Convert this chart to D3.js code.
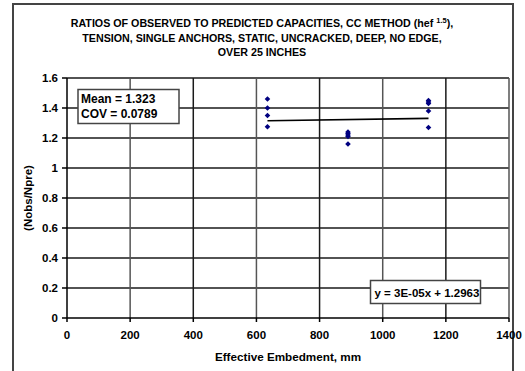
<!DOCTYPE html>
<html>
<head>
<meta charset="utf-8">
<script src="https://cdn.jsdelivr.net/npm/d3@7"></script>
<style>
  body { margin: 0; background: #fff; }
  text { font-family: "Liberation Sans", Arial, sans-serif; font-weight: bold; fill: #000; }
  .grid line { stroke: #1a1a1a; stroke-width: 1.5px; }
  .grid.vert .tick:nth-child(odd) line { stroke: #555; }
</style>
</head>
<body>
<div id="chart"></div>
<script>
var svgWidth = 525;
var svgHeight = 371;

// data
var embedment = [635, 635, 635, 635, 890, 890, 890, 890, 890, 1145, 1145, 1145, 1145, 1145];
var ratio = [1.46, 1.40, 1.35, 1.275, 1.24, 1.23, 1.22, 1.21, 1.16, 1.45, 1.44, 1.43, 1.38, 1.27];
var xTicks = [0, 200, 400, 600, 800, 1000, 1200, 1400];
var yTicks = [0, 0.2, 0.4, 0.6, 0.8, 1, 1.2, 1.4, 1.6];
var trendSlope = 3e-5;
var trendIntercept = 1.2963;
var statsLines = ["Mean = 1.323", "COV = 0.0789"];
var titleLines = ["RATIOS OF OBSERVED TO PREDICTED CAPACITIES, CC METHOD (hef ",
                  "TENSION, SINGLE ANCHORS, STATIC, UNCRACKED, DEEP, NO EDGE,",
                  "OVER 25 INCHES"];

var margin = { top: 78, right: 16, bottom: 53, left: 67 };
var width = svgWidth - margin.left - margin.right;
var height = svgHeight - margin.top - margin.bottom;

var svg = d3.select("#chart")
    .append("svg")
    .attr("width", svgWidth)
    .attr("height", svgHeight);

// outer chart border
svg.append("path")
    .attr("d", "M13,371 V4 H513 V371")
    .attr("fill", "none")
    .attr("stroke", "#444")
    .attr("stroke-width", 2);

// title
var title = svg.append("g").attr("text-anchor", "middle").attr("font-size", "10.7px");
var t1 = title.append("text").attr("x", 262).attr("y", 27);
t1.append("tspan").text(titleLines[0]);
t1.append("tspan").attr("font-size", "7.5px").attr("dy", -4).text("1.5");
t1.append("tspan").attr("dy", 4).text("),");
title.append("text").attr("x", 262).attr("y", 41.5).text(titleLines[1]);
title.append("text").attr("x", 262).attr("y", 56).text(titleLines[2]);

var chartGroup = svg.append("g")
    .attr("transform", `translate(${margin.left}, ${margin.top})`);

var xScale = d3.scaleLinear().domain([0, 1400]).range([0, width]);
var yScale = d3.scaleLinear().domain([0, 1.6]).range([height, 0]);

// gridlines, drawn with the axis generators (offset 0 so the lines straddle two pixels)
chartGroup.append("g")
    .attr("class", "grid")
    .call(d3.axisLeft(yScale).tickValues(yTicks.slice(1)).tickSize(-width).tickFormat("").offset(0))
    .call(g => g.select(".domain").remove());

chartGroup.append("g")
    .attr("class", "grid vert")
    .call(d3.axisTop(xScale).tickValues(xTicks.slice(1)).tickSize(-height).tickFormat("").offset(0))
    .call(g => g.select(".domain").remove());

// axes
var bottomAxis = d3.axisBottom(xScale).tickValues(xTicks).tickSize(4).tickSizeOuter(0).tickPadding(9).tickFormat(d3.format("d")).offset(0);
var leftAxis = d3.axisLeft(yScale).tickValues(yTicks).tickSize(5).tickSizeOuter(0).tickPadding(4).tickFormat(d => d3.format("")(d)).offset(0);

var xAxis = chartGroup.append("g")
    .attr("transform", `translate(0, ${height})`)
    .call(bottomAxis);
var yAxis = chartGroup.append("g").call(leftAxis);

[xAxis, yAxis].forEach(function (ax) {
    ax.select(".domain").attr("stroke", "#000").attr("stroke-width", 1.5);
    ax.selectAll(".tick line").attr("stroke", "#000").attr("stroke-width", 1.5);
    ax.selectAll("text")
        .attr("font-size", "11.5px")
        .attr("font-family", "Liberation Sans, Arial, sans-serif")
        .attr("font-weight", "bold")
        .attr("fill", "#000");
});

// axis labels
chartGroup.append("text")
    .attr("x", width / 2)
    .attr("y", height + 43)
    .attr("text-anchor", "middle")
    .attr("font-size", "11.7px")
    .text("Effective Embedment, mm");

chartGroup.append("text")
    .attr("transform", "rotate(-90)")
    .attr("x", -height / 2)
    .attr("y", -35)
    .attr("text-anchor", "middle")
    .attr("font-size", "11.5px")
    .text("(Nobs/Npre)");

// trend line
var xMin = d3.min(embedment), xMax = d3.max(embedment);
chartGroup.append("line")
    .attr("x1", xScale(xMin))
    .attr("y1", yScale(trendSlope * xMin + trendIntercept))
    .attr("x2", xScale(xMax))
    .attr("y2", yScale(trendSlope * xMax + trendIntercept))
    .attr("stroke", "#000")
    .attr("stroke-width", 1.6);

// points
chartGroup.selectAll(".pt")
    .data(embedment)
    .enter()
    .append("path")
    .attr("class", "pt")
    .attr("d", d3.symbol().type(d3.symbolDiamond2).size(20))
    .attr("transform", (d, i) => `translate(${xScale(d)}, ${yScale(ratio[i])})`)
    .attr("fill", "#000080");

// stats box
var statsBox = svg.append("g").attr("transform", "translate(78, 89.5)");
statsBox.append("rect")
    .attr("width", 101).attr("height", 34)
    .attr("fill", "#fff").attr("stroke", "#444").attr("stroke-width", 1.5);
statsBox.selectAll("text")
    .data(statsLines)
    .enter()
    .append("text")
    .attr("x", 3)
    .attr("y", (d, i) => 13 + i * 15)
    .attr("font-size", "12px")
    .text(d => d);

// equation box
var eqBox = svg.append("g").attr("transform", "translate(370.5, 280.5)");
eqBox.append("rect")
    .attr("width", 110).attr("height", 23)
    .attr("fill", "#fff").attr("stroke", "#444").attr("stroke-width", 1.5);
eqBox.append("text")
    .attr("x", 4).attr("y", 16)
    .attr("font-size", "11.5px")
    .text(`y = 3E-05x + ${trendIntercept}`);
</script>
</body>
</html>
